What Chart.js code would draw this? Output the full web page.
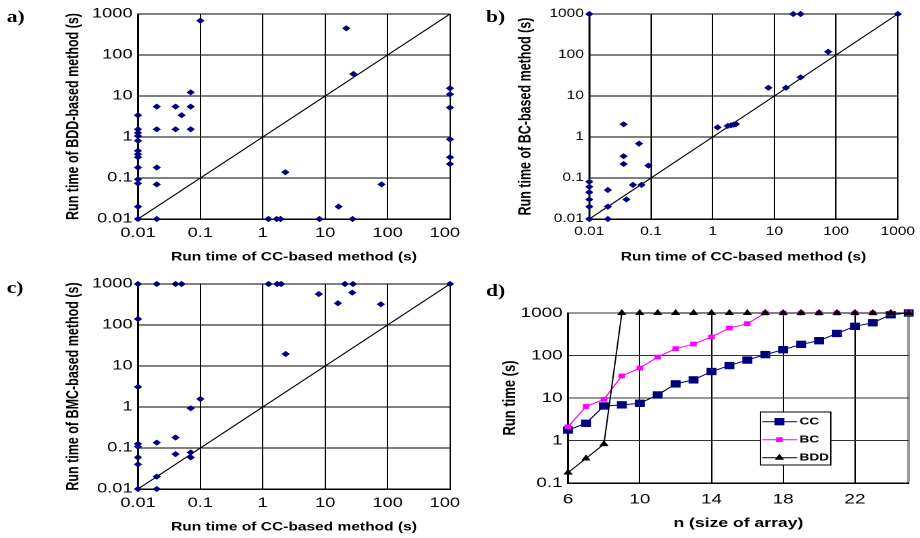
<!DOCTYPE html>
<html>
<head>
<meta charset="utf-8">
<script src="https://cdn.jsdelivr.net/npm/chart.js@4/dist/chart.umd.min.js"></script>
<style>
html, body { margin: 0; padding: 0; background: #fff; overflow: hidden; }
#fig { position: absolute; left: 0; top: 0; width: 681.5px; height: 538px; transform: scaleX(1.35); transform-origin: 0 0; }
.box { position: absolute; }
.tag { position: absolute; font: bold 16px "Liberation Serif", "Times New Roman", serif; line-height: 1; }
</style>
</head>
<body>
<div id="fig">
  <div class="tag" style="left:5px;top:9px">a)</div>
  <div class="tag" style="left:360px;top:9px">b)</div>
  <div class="tag" style="left:5px;top:280px">c)</div>
  <div class="tag" style="left:360px;top:283px">d)</div>
  <div class="box" style="left:43px;top:0px;width:298px;height:268px"><canvas id="chartA"></canvas></div>
  <div class="box" style="left:377.7px;top:0px;width:303.8px;height:268px"><canvas id="chartB"></canvas></div>
  <div class="box" style="left:43px;top:270px;width:298px;height:268px"><canvas id="chartC"></canvas></div>
  <div class="box" style="left:366px;top:270px;width:315.5px;height:265.1px"><canvas id="chartD"></canvas></div>
</div>
<script>
// a) CC-based vs BDD-based run time (s)
const ccA  = [0.01, 0.01, 0.01, 0.01, 0.01, 0.01, 0.01, 0.01, 0.01, 0.01, 0.01, 0.01, 0.01,
              0.02, 0.02, 0.02, 0.02, 0.02, 0.04, 0.04, 0.05, 0.07, 0.07, 0.07, 0.1,
              1.23, 1.67, 1.92, 2.3, 8.1, 16.4, 21.8, 27.5, 28.4, 80,
              1000, 1000, 1000, 1000, 1000, 1000];
const bddA = [3.4, 1.54, 1.26, 1.06, 0.81, 0.46, 0.38, 0.32, 0.18, 0.093, 0.074, 0.02, 0.01,
              5.5, 1.54, 0.18, 0.07, 0.01, 5.5, 1.54, 3.4, 12.3, 5.5, 1.54, 687,
              0.01, 0.01, 0.01, 0.138, 0.01, 0.02, 448, 0.01, 34.4, 0.07,
              15.4, 11, 5.2, 0.88, 0.32, 0.22];

// b) CC-based vs BC-based run time (s)
const ccB = [0.01, 0.01, 0.01, 0.01, 0.01, 0.01, 0.01, 0.02, 0.02, 0.02,
             0.036, 0.036, 0.036, 0.04, 0.051, 0.064, 0.07, 0.091,
             1.2, 1.75, 1.98, 2.19, 2.38, 8.0, 15.4, 26.6, 74.5, 20.2, 26.6, 1000];
const bcB = [1000, 0.081, 0.061, 0.045, 0.03, 0.02, 0.01, 0.051, 0.02, 0.01,
             2.04, 0.34, 0.22, 0.03, 0.068, 0.69, 0.068, 0.2,
             1.72, 1.86, 1.93, 2.0, 2.07, 15.9, 15.9, 28.6, 120, 1000, 1000, 1000];

// c) CC-based vs BMC-based run time (s)
const ccC  = [0.01, 0.01, 0.01, 0.01, 0.01, 0.01, 0.01, 0.01, 0.02, 0.02, 0.02, 0.02,
              0.04, 0.04, 0.04, 0.05, 0.07, 0.07, 0.07, 0.1,
              1.24, 1.7, 1.97, 2.33, 7.9, 16, 20.7, 27.2, 27.9, 78, 1000];
const bmcC = [1000, 140, 3.1, 0.126, 0.108, 0.059, 0.04, 0.01, 1000, 0.135, 0.02, 0.01,
              1000, 0.18, 0.071, 1000, 0.93, 0.078, 0.059, 1.57,
              1000, 1000, 1000, 19.6, 570, 339, 1000, 615, 1000, 320, 1000];

const diag = [0.01, 1000];
const decades = [0.01, 0.1, 1, 10, 100, 1000];
const decadeLabels = ['0.01', '0.1', '1', '10', '100', '1000'];

// d) run time vs n
const sizeN = [6, 7, 8, 9, 10, 11, 12, 13, 14, 15, 16, 17, 18, 19, 20, 21, 22, 23, 24, 25];
const ccD  = [1.76, 2.54, 6.5, 6.9, 7.5, 11.8, 21.5, 26.7, 42, 58, 78, 105, 137, 183, 223, 330, 486, 590, 910, 1000];
const bcD  = [2.1, 6.3, 9.3, 33, 50.6, 92, 145, 186, 272, 443, 561, 1000, 1000, 1000, 1000, 1000, 1000, 1000, 1000, 1000];
const bddD = [0.176, 0.378, 0.82, 1000, 1000, 1000, 1000, 1000, 1000, 1000, 1000, 1000, 1000, 1000, 1000, 1000, 1000, 1000, 1000, 1000];
const seriesNames = ['CC', 'BC', 'BDD'];
const nTicks = [6, 10, 14, 18, 22];
const timeTicks = [0.1, 1, 10, 100, 1000];
const timeLabels = ['0.1', '1', '10', '100', '1000'];

Chart.defaults.font.family = '"Liberation Sans", Arial, sans-serif';
Chart.defaults.color = '#000';
Chart.defaults.animation = false;

function pairs(xs, ys) {
    return xs.map(function (x, i) { return { x: x, y: ys[i] }; });
}

// the outer labels are allowed to run off the canvas, like in the scan
function scatterPanel(id, xs, ys, yTitle, yWidth, padRight, tickSize) {
    return new Chart(document.getElementById(id), {
        type: 'scatter',
        data: {
            datasets: [{
                data: pairs(xs, ys),
                pointStyle: 'rectRot',
                pointRadius: 3.1,
                pointBorderWidth: 0,
                backgroundColor: '#000080',
                borderColor: '#000080',
                clip: false
            }, {
                data: pairs(diag, diag),
                showLine: true,
                pointRadius: 0,
                borderColor: '#000',
                borderWidth: 1
            }]
        },
        options: {
            responsive: true,
            maintainAspectRatio: false,
            devicePixelRatio: 2,
            layout: { padding: { top: 14, right: padRight, left: 0, bottom: 0 } },
            plugins: { legend: { display: false }, tooltip: { enabled: false } },
            scales: {
                x: {
                    type: 'logarithmic', min: 0.01, max: 1000,
                    afterBuildTicks: function (s) { s.ticks = decades.map(function (v) { return { value: v }; }); },
                    afterFit: function (s) { s.height = 49; s.paddingLeft = 0; s.paddingRight = 0; },
                    ticks: { callback: function (v, i) { return decadeLabels[i]; }, font: { size: tickSize }, padding: 6, maxRotation: 0, autoSkip: false },
                    grid: { color: '#000', lineWidth: 1, drawTicks: false },
                    border: { color: '#000', width: 1.5 },
                    title: { display: true, text: 'Run time of CC-based method (s)', font: { size: 11.5, weight: 'bold' }, padding: { top: 4, bottom: 4 } }
                },
                y: {
                    type: 'logarithmic', min: 0.01, max: 1000,
                    afterBuildTicks: function (s) { s.ticks = decades.map(function (v) { return { value: v }; }); },
                    afterFit: function (s) { s.width = yWidth; s.paddingTop = 0; s.paddingBottom = 0; },
                    ticks: { callback: function (v, i) { return decadeLabels[i]; }, font: { size: tickSize }, padding: 4, autoSkip: false },
                    grid: { color: '#000', lineWidth: 1, drawTicks: false },
                    border: { color: '#000', width: 1.5 },
                    title: { display: true, text: yTitle, font: { size: 12.5, weight: 'bold' }, padding: { top: 4, bottom: 4 } }
                }
            }
        }
    });
}

scatterPanel('chartA', ccA, bddA, 'Run time of BDD-based method (s)', 59.2, 7.7, 13.5);
scatterPanel('chartB', ccB, bcB, 'Run time of BC-based method (s)', 58.6, 16.3, 11.5);
scatterPanel('chartC', ccC, bmcC, 'Run time of BMC-based method (s)', 59.2, 7.7, 13.5);

// small marker drawer for the legend box
function marker(ctx, style, r, x, y, color) {
    ctx.fillStyle = color;
    ctx.beginPath();
    if (style == 'triangle') {
        ctx.moveTo(x, y - r);
        ctx.lineTo(x + r * 0.866, y + r * 0.5);
        ctx.lineTo(x - r * 0.866, y + r * 0.5);
        ctx.closePath();
    } else {
        const h = r * Math.SQRT1_2;
        ctx.rect(x - h, y - h, 2 * h, 2 * h);
    }
    ctx.fill();
}

const legendBox = {
    id: 'legendBox',
    afterDatasetsDraw: function (chart) {
        const ctx = chart.ctx, a = chart.chartArea;
        const x0 = a.left + 142.3, y0 = a.top + 99, w = 52, h = 53;
        ctx.save();
        ctx.fillStyle = '#fff';
        ctx.fillRect(x0, y0, w, h);
        ctx.strokeStyle = '#000';
        ctx.lineWidth = 1;
        ctx.strokeRect(x0, y0, w, h);
        chart.data.datasets.forEach(function (ds, i) {
            const y = y0 + 9.7 + i * 18;
            ctx.strokeStyle = ds.borderColor;
            ctx.lineWidth = ds.borderWidth;
            ctx.beginPath();
            ctx.moveTo(x0 + 1.2, y);
            ctx.lineTo(x0 + 27.1, y);
            ctx.stroke();
            marker(ctx, ds.pointStyle, ds.pointRadius, x0 + 14, y, ds.backgroundColor);
            ctx.fillStyle = '#000';
            ctx.font = 'bold 10px "Liberation Sans", Arial, sans-serif';
            ctx.textBaseline = 'middle';
            ctx.textAlign = 'left';
            ctx.fillText(ds.label, x0 + 28.9, y);
        });
        ctx.restore();
    }
};

new Chart(document.getElementById('chartD'), {
    type: 'line',
    data: {
        datasets: [{
            label: seriesNames[0],
            data: pairs(sizeN, ccD),
            borderColor: '#000080', backgroundColor: '#000080', borderWidth: 1,
            pointStyle: 'rect', pointRadius: 5.2, pointBorderWidth: 0,
            order: 3, clip: false
        }, {
            label: seriesNames[1],
            data: pairs(sizeN, bcD),
            borderColor: '#ff00ff', backgroundColor: '#ff00ff', borderWidth: 1,
            pointStyle: 'rect', pointRadius: 3.4, pointBorderWidth: 0,
            order: 2, clip: false
        }, {
            label: seriesNames[2],
            data: pairs(sizeN, bddD),
            borderColor: '#000', backgroundColor: '#000', borderWidth: 1,
            pointStyle: 'triangle', pointRadius: 4, pointBorderWidth: 0,
            order: 1, clip: false
        }]
    },
    options: {
        responsive: true,
        maintainAspectRatio: false,
        devicePixelRatio: 2,
        layout: { padding: { top: 43, right: 8.9, left: 0, bottom: 0 } },
        plugins: { legend: { display: false }, tooltip: { enabled: false } },
        scales: {
            x: {
                type: 'linear', min: 6, max: 25,
                afterBuildTicks: function (s) { s.ticks = nTicks.concat([25]).map(function (v) { return { value: v }; }); },
                afterFit: function (s) { s.height = 52.1; s.paddingLeft = 0; s.paddingRight = 0; },
                ticks: { callback: function (v) { return nTicks.indexOf(v) >= 0 ? String(v) : ''; }, font: { size: 14 }, padding: 8, maxRotation: 0, autoSkip: false },
                grid: { color: function (c) { return c.tick && c.tick.value == 25 ? '#999' : '#000'; }, lineWidth: function (c) { return c.tick && c.tick.value == 25 ? 2 : 1; }, drawTicks: false },
                border: { color: '#000', width: 1.5 },
                title: { display: true, text: 'n (size of array)', font: { size: 13, weight: 'bold' }, padding: { top: 4, bottom: 4 } }
            },
            y: {
                type: 'logarithmic', min: 0.1, max: 1000,
                afterBuildTicks: function (s) { s.ticks = timeTicks.map(function (v) { return { value: v }; }); },
                afterFit: function (s) { s.width = 54.7; s.paddingTop = 0; s.paddingBottom = 0; },
                ticks: { callback: function (v, i) { return timeLabels[i]; }, font: { size: 14 }, padding: 4, autoSkip: false },
                grid: { color: '#333', lineWidth: 1, drawTicks: false },
                border: { color: '#000', width: 1.5 },
                title: { display: true, text: 'Run time (s)', font: { size: 13, weight: 'bold' }, padding: { top: 4, bottom: 4 } }
            }
        }
    },
    plugins: [legendBox]
});
</script>
</body>
</html>
